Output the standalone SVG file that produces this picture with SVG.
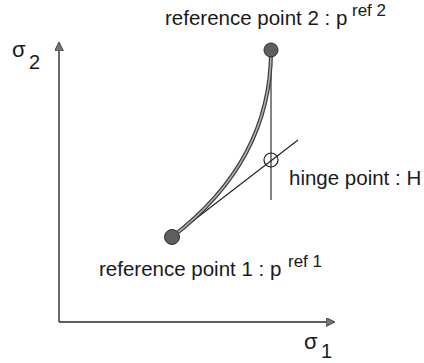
<svg xmlns="http://www.w3.org/2000/svg" width="424" height="363" viewBox="0 0 424 363">
<style>
text{font-family:"Liberation Sans",Arial,sans-serif;fill:#1a1a1a}
.lbl{font-size:20.5px}
.sup{font-size:17px}
.sym{font-size:22px}
.sub{font-size:20px}
.thin{stroke:#1f1f1f;stroke-width:1.1;fill:none}
.axis{stroke:#2a2a2a;stroke-width:1.4;fill:none}
.dot{fill:#5e5e5e;stroke:#2e2e2e;stroke-width:1}
</style>
<defs>
<marker id="ah" viewBox="0 0 10 10" refX="9" refY="5" markerWidth="9" markerHeight="9" markerUnits="userSpaceOnUse" orient="auto">
<path d="M0,0 L10,5 L0,10 Z" fill="#777" stroke="#333" stroke-width="1"/>
</marker>
</defs>
<g id="axes">
<line class="axis" x1="59" y1="322" x2="59" y2="43" marker-end="url(#ah)"/>
<line class="axis" x1="59" y1="322" x2="334" y2="322" marker-end="url(#ah)"/>
<text class="sym" x="12" y="57">σ</text><text class="sub" x="29" y="69">2</text>
<text class="sym" x="304" y="349">σ</text><text class="sub" x="321" y="358">1</text>
</g>
<g id="connectors">
<line class="thin" x1="172" y1="237" x2="298" y2="140"/>
<line class="thin" x1="271" y1="51" x2="271" y2="200"/>
<path d="M172,237 Q271,161 271,51" fill="none" stroke="#3a3a3a" stroke-width="4"/>
<path d="M172,237 Q271,161 271,51" fill="none" stroke="#b0b0b0" stroke-width="1.6"/>
</g>
<g id="p2">
<circle class="dot" cx="271" cy="50" r="7"/>
<text class="lbl" x="165" y="25">reference point 2 : p</text><text class="sup" x="352" y="16">ref 2</text>
</g>
<g id="hinge">
<circle cx="271" cy="160" r="7" fill="none" stroke="#1f1f1f" stroke-width="1.2"/>
<text class="lbl" x="289" y="185">hinge point : H</text>
</g>
<g id="p1">
<circle class="dot" cx="172" cy="237" r="7.5"/>
<text class="lbl" x="99" y="276">reference point 1 : p</text><text class="sup" x="288" y="267">ref 1</text>
</g>
</svg>
